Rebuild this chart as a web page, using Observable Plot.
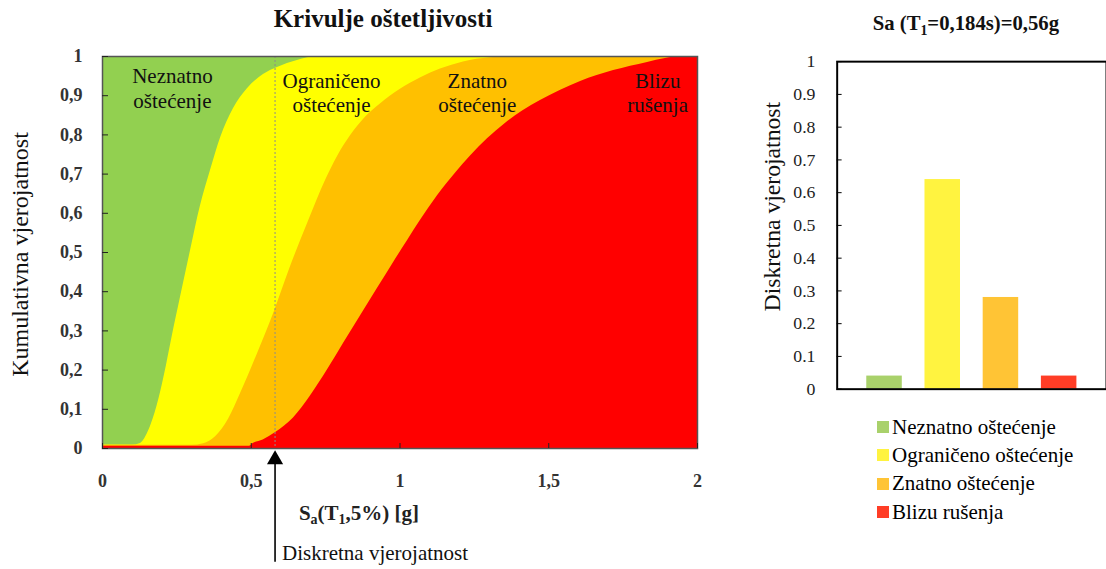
<!DOCTYPE html>
<html><head><meta charset="utf-8">
<script src="https://cdn.jsdelivr.net/npm/d3@7"></script>
<script src="https://cdn.jsdelivr.net/npm/@observablehq/plot@0.6"></script>
<style>
html,body{margin:0;padding:0;background:#fff;overflow:hidden;}
#wrap{position:relative;width:1106px;height:569px;overflow:hidden;font-family:'Liberation Serif', serif;}
#left{position:absolute;left:0;top:0;}
#right{position:absolute;left:740px;top:0;}
#legend{position:absolute;left:877px;top:413px;}
.row{display:flex;align-items:center;height:28.3px;font-size:21px;color:#000;white-space:nowrap;font-family:'Liberation Serif', serif;}
.sw{width:12px;height:12px;margin-right:3px;flex:none;}
</style></head><body>
<div id="wrap"><div id="left"></div><div id="right"></div><div id="legend"></div></div>
<script>
// ---------- data ----------
const damageStates = ["Neznatno oštećenje", "Ograničeno oštećenje", "Znatno oštećenje", "Blizu rušenja"];
const zoneLines = ["Neznatno\noštećenje", "Ograničeno\noštećenje", "Znatno\noštećenje", "Blizu\nrušenja"];
const zoneLabelX = [0.235, 0.77, 1.26, 1.866];
const zoneLabelY = [0.92, 0.909, 0.909, 0.909];
const areaColors = ["#92d050", "#ffff00", "#ffc000", "#ff0000"];
const barColors = ["#a9d16b", "#fff340", "#ffc435", "#ff3d26"];
const discreteProb = [0.04, 0.64, 0.28, 0.04];

// boundary Neznatno / Ograničeno
const curve1X = [0, 0.10, 0.128, 0.151, 0.171, 0.195, 0.215, 0.235, 0.262, 0.296, 0.329, 0.363, 0.397, 0.44, 0.487, 0.541, 0.588, 0.655, 0.723, 2];
const curve1P = [0.009, 0.009, 0.013, 0.038, 0.077, 0.143, 0.212, 0.288, 0.385, 0.505, 0.618, 0.709, 0.793, 0.867, 0.918, 0.954, 0.972, 0.99, 1, 1];
// boundary Ograničeno / Znatno
const curve2X = [0, 0.30, 0.34, 0.38, 0.424, 0.464, 0.52, 0.575, 0.63, 0.69, 0.75, 0.79, 0.833, 0.884, 0.934, 1.0, 1.07, 1.136, 1.213, 1.304, 1.4, 2];
const curve2P = [0.008, 0.008, 0.012, 0.03, 0.075, 0.14, 0.24, 0.344, 0.46, 0.575, 0.684, 0.745, 0.797, 0.845, 0.879, 0.916, 0.946, 0.968, 0.986, 0.997, 1, 1];
// boundary Znatno / Blizu rušenja
const curve3X = [0, 0.495, 0.505, 0.54, 0.582, 0.642, 0.699, 0.756, 0.81, 0.867, 0.924, 0.978, 1.025, 1.069, 1.126, 1.187, 1.237, 1.294, 1.355, 1.412, 1.472, 1.54, 1.607, 1.718, 1.832, 1.892, 1.943, 2];
const curve3P = [0.006, 0.006, 0.012, 0.022, 0.041, 0.078, 0.134, 0.2, 0.268, 0.338, 0.408, 0.474, 0.53, 0.582, 0.645, 0.703, 0.746, 0.79, 0.83, 0.861, 0.888, 0.914, 0.936, 0.964, 0.985, 0.995, 1, 1];

const saValue = 0.58;
const arrowBottom = -0.29;
const arrowLabelY = -0.268;
const yTicksLeft = [0, 0.1, 0.2, 0.3, 0.4, 0.5, 0.6, 0.7, 0.8, 0.9, 1];
const xTicksLeft = [0, 0.5, 1, 1.5, 2];
const yTicksRight = [0, 0.1, 0.2, 0.3, 0.4, 0.5, 0.6, 0.7, 0.8, 0.9, 1];

const serif = "Liberation Serif";
const toRows = (xs, ps) => xs.map((x, i) => ({x, p: ps[i]}));
const c1 = toRows(curve1X, curve1P), c2 = toRows(curve2X, curve2P), c3 = toRows(curve3X, curve3P);
const zones = zoneLines.map((t, i) => ({t, x: zoneLabelX[i], y: zoneLabelY[i]}));
const bars = damageStates.map((s, i) => ({state: s, p: discreteProb[i]}));
const commaFmt = d => String(d).replace(".", ",");
const plainFmt = d => String(d);
const blank = () => "";

// ---------- left chart ----------
const left = Plot.plot({
  width: 720, height: 569,
  marginLeft: 102, marginRight: 23, marginTop: 56, marginBottom: 121,
  x: {domain: [0, 2], label: null},
  y: {domain: [0, 1], label: null},
  style: {fontFamily: serif, background: "transparent", overflow: "visible"},
  marks: [
    Plot.frame({fill: areaColors[0]}),
    Plot.areaY(c1, {x: "x", y: "p", fill: areaColors[1], curve: "monotone-x"}),
    Plot.areaY(c2, {x: "x", y: "p", fill: areaColors[2], curve: "monotone-x"}),
    Plot.areaY(c3, {x: "x", y: "p", fill: areaColors[3], curve: "monotone-x"}),
    Plot.ruleX([saValue], {stroke: "#8c8c8c", strokeDasharray: "2,2", strokeWidth: 1}),
    Plot.text(zones, {x: "x", y: "y", text: "t", lineAnchor: "middle", lineHeight: 1.17, fontSize: 21, fontFamily: serif, fill: "#111"}),
    Plot.frame({stroke: "#555", strokeWidth: 1.5}),
    Plot.axisY({ticks: yTicksLeft, tickSize: 0, tickPadding: 20, tickFormat: commaFmt, fontSize: 18, fontWeight: "bold", fontFamily: serif, color: "#333", label: null}),
    Plot.axisY({ticks: yTicksLeft, tickSize: 6, dx: 6, tickFormat: blank, color: "#222", label: null}),
    Plot.axisX({ticks: xTicksLeft, tickSize: 0, tickPadding: 26, tickFormat: commaFmt, fontSize: 18, fontWeight: "bold", fontFamily: serif, color: "#333", label: null}),
    Plot.axisX({ticks: xTicksLeft, tickSize: 5, dy: -5, tickFormat: blank, color: "#222", label: null}),
    Plot.ruleX([saValue], {y1: arrowBottom, y2: -0.03, stroke: "black", strokeWidth: 1.6}),
    Plot.dot([saValue], {x: d => d, y: 0, symbol: "triangle", r: 6, fill: "black", stroke: null, dy: 11}),
    Plot.text(["Diskretna vjerojatnost"], {x: saValue, y: arrowLabelY, text: d => d, textAnchor: "start", dx: 7, fontSize: 21, fontFamily: serif, fill: "#111"}),
    Plot.text(["Kumulativna vjerojatnost"], {frameAnchor: "left", textAnchor: "middle", rotate: -90, dx: -82, dy: 2, text: d => d, fontSize: 24, fontFamily: serif, fill: "#111"})
  ]
});
document.getElementById("left").appendChild(left);
{
  const s = d3.select(left);
  s.append("text").attr("x", 383).attr("y", 27).attr("text-anchor", "middle")
    .attr("font-family", serif).attr("font-weight", "bold").attr("font-size", 25).attr("fill", "#111")
    .text("Krivulje oštetljivosti");
  const t = s.append("text").attr("x", 359).attr("y", 520).attr("text-anchor", "middle")
    .attr("font-family", serif).attr("font-weight", "bold").attr("font-size", 21).attr("fill", "#222");
  t.append("tspan").text("S");
  t.append("tspan").attr("font-size", 14).attr("dy", 4).text("a");
  t.append("tspan").attr("dy", -4).text("(T");
  t.append("tspan").attr("font-size", 14).attr("dy", 4).text("1");
  t.append("tspan").attr("dy", -4).text(",5%) [g]");
}

// ---------- right chart ----------
const right = Plot.plot({
  width: 371, height: 400,
  marginLeft: 98, marginRight: 0, marginTop: 62, marginBottom: 6,
  x: {domain: damageStates, paddingInner: 0.383, paddingOuter: 0.467, axis: null},
  y: {domain: [0, 1], label: null},
  color: {domain: damageStates, range: barColors},
  style: {fontFamily: serif, background: "transparent", overflow: "visible"},
  marks: [
    Plot.barY(bars, {x: "state", y: "p", fill: "state"}),
    Plot.frame({stroke: "black", strokeWidth: 2}),
    Plot.axisY({ticks: yTicksRight, tickSize: 0, tickPadding: 22, tickFormat: plainFmt, fontSize: 18, fontFamily: serif, color: "#222", label: null}),
    Plot.axisY({ticks: yTicksRight, tickSize: 5, dx: 5, tickFormat: blank, color: "black", label: null}),
    Plot.text(["Diskretna vjerojatnost"], {frameAnchor: "left", textAnchor: "middle", rotate: -90, dx: -66, dy: -19, text: d => d, fontSize: 24, fontFamily: serif, fill: "#111"})
  ]
});
document.getElementById("right").appendChild(right);
{
  const t = d3.select(right).append("text").attr("x", 229).attr("y", 30).attr("text-anchor", "middle")
    .attr("font-family", serif).attr("font-weight", "bold").attr("font-size", 21).attr("fill", "#111");
  t.append("tspan").text("Sa (T");
  t.append("tspan").attr("font-size", 14).attr("dy", 5).text("1");
  t.append("tspan").attr("dy", -5).text("=0,184s)=0,56g");
}

// ---------- legend ----------
const legend = d3.select("#legend");
damageStates.forEach((s, i) => {
  const row = legend.append("div").attr("class", "row");
  row.append("div").attr("class", "sw").style("background", barColors[i]);
  row.append("span").text(s);
});
</script>
</body></html>
